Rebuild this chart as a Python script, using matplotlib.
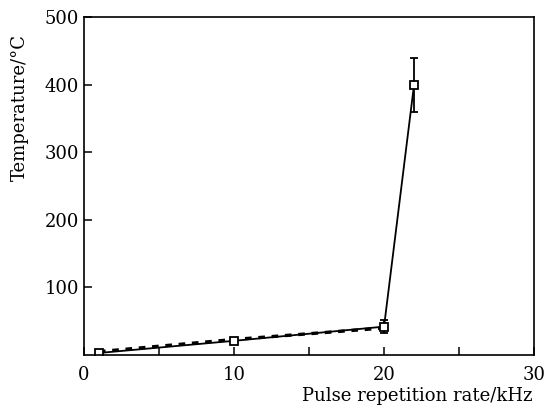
import matplotlib
matplotlib.use("Agg")
import matplotlib.pyplot as plt
from matplotlib.ticker import MultipleLocator

plt.rcParams['font.family'] = ['DejaVu Serif']

# data
freq = [1, 10, 20, 22]
temp = [3, 21, 42, 400]
temp_err = [0, 0, 10, 40]
freq_dash = [1, 10, 20]
temp_dash = [5, 23, 40]

fig = plt.figure(figsize=(5.45, 4.09), dpi=100)
ax = fig.add_axes([0.154, 0.132, 0.826, 0.826])

ax.plot(freq_dash, temp_dash, color='black', linestyle=(0, (2, 2)), linewidth=2.4)
ax.errorbar(freq, temp, yerr=temp_err, color='black', linewidth=1.3,
            marker='s', markersize=6, markerfacecolor='white',
            markeredgecolor='black', markeredgewidth=1.3,
            capsize=3, elinewidth=1.3, capthick=1.3)

ax.set_xlim(0, 30)
ax.set_ylim(0, 500)
ax.xaxis.set_major_locator(MultipleLocator(10))
ax.xaxis.set_minor_locator(MultipleLocator(5))
ax.set_yticks([100, 200, 300, 400, 500])
ax.tick_params(direction='in', labelsize=13, length=6, width=1.1)
ax.tick_params(axis='x', which='minor', direction='in', length=6, width=1.1)
ax.tick_params(axis='x', pad=8)
for s in ax.spines.values():
    s.set_linewidth(1.2)

fig.text(0.977, 0.032, 'Pulse repetition rate/kHz', ha='right', va='center', fontsize=13)
fig.text(0.037, 0.738, 'Temperature/\u00b0C', rotation=90, ha='center', va='center', fontsize=13)

fig.savefig('out.png', dpi=100, facecolor='white')
